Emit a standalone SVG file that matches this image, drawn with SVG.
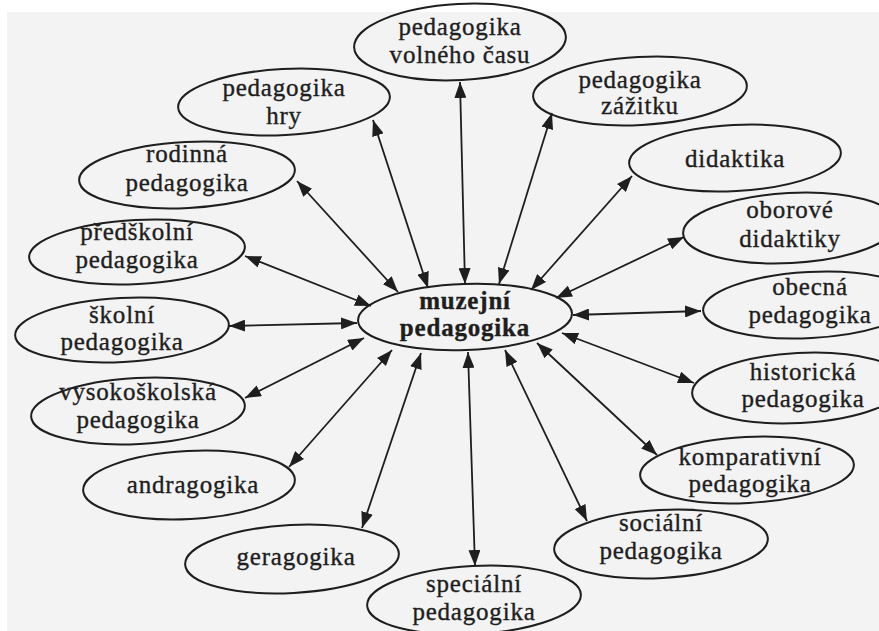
<svg xmlns="http://www.w3.org/2000/svg" width="879" height="631" viewBox="0 0 879 631">
<style>
.n ellipse{fill:none;stroke:#1e1e1e;stroke-width:2}
.n text{font-family:"Liberation Serif","Times New Roman",serif;font-size:25px;letter-spacing:0.8px;fill:#1e1e1e;stroke:#1e1e1e;stroke-width:0.35;text-anchor:middle}
.c line{stroke:#1e1e1e;stroke-width:1.8;marker-start:url(#ah);marker-end:url(#ah)}
</style>
<defs>
<marker id="ah" markerUnits="userSpaceOnUse" markerWidth="17" markerHeight="12" refX="16" refY="6" orient="auto-start-reverse" viewBox="0 0 17 12">
<path d="M0,0 L16,6 L0,12 z" fill="#1e1e1e"/>
</marker>
</defs>
<rect x="0" y="0" width="879" height="631" fill="#ffffff"/>
<rect x="7" y="12" width="872" height="619" fill="#f3f3f3"/>
<g class="c" id="connectors">
<line x1="465" y1="284" x2="460" y2="82"/>
<line x1="499" y1="284" x2="552" y2="113"/>
<line x1="531" y1="290" x2="632" y2="176"/>
<line x1="556" y1="298" x2="684" y2="237"/>
<line x1="573" y1="315" x2="701" y2="311"/>
<line x1="562" y1="333" x2="694" y2="383"/>
<line x1="537" y1="343" x2="657" y2="455"/>
<line x1="505" y1="350" x2="587" y2="521"/>
<line x1="468" y1="352" x2="475" y2="566"/>
<line x1="421" y1="353" x2="362" y2="528"/>
<line x1="392" y1="350" x2="289" y2="467"/>
<line x1="364" y1="338" x2="245" y2="398"/>
<line x1="357" y1="323" x2="229" y2="326"/>
<line x1="371" y1="306" x2="245" y2="256"/>
<line x1="398" y1="292" x2="297" y2="181"/>
<line x1="428" y1="288" x2="373" y2="120"/>
</g>
<g class="n" id="muzejni"><ellipse cx="465" cy="317" rx="107" ry="33" transform="rotate(-2 465 317)"/><text x="465" y="309" font-weight="bold">muzejní</text><text x="465" y="336" font-weight="bold">pedagogika</text></g>
<g class="n" id="volny-cas"><ellipse cx="460" cy="42" rx="106" ry="38" transform="rotate(-3 460 42)"/><text x="460" y="35">pedagogika</text><text x="460" y="63">volného času</text></g>
<g class="n" id="hry"><ellipse cx="284" cy="102" rx="106" ry="33" transform="rotate(-3 284 102)"/><text x="284" y="96">pedagogika</text><text x="284" y="124">hry</text></g>
<g class="n" id="zazitek"><ellipse cx="640" cy="91" rx="107" ry="34" transform="rotate(-3 640 91)"/><text x="640" y="88">pedagogika</text><text x="640" y="114">zážitku</text></g>
<g class="n" id="rodinna"><ellipse cx="187" cy="175" rx="108" ry="33" transform="rotate(-3 187 175)"/><text x="187" y="162">rodinná</text><text x="187" y="191">pedagogika</text></g>
<g class="n" id="didaktika"><ellipse cx="735" cy="158" rx="106" ry="33" transform="rotate(-3 735 158)"/><text x="735" y="167">didaktika</text></g>
<g class="n" id="predskolni"><ellipse cx="137" cy="252" rx="108" ry="32" transform="rotate(-3 137 252)"/><text x="137" y="240">předškolní</text><text x="137" y="268">pedagogika</text></g>
<g class="n" id="oborove"><ellipse cx="790" cy="228" rx="107" ry="35" transform="rotate(-3 790 228)"/><text x="790" y="218">oborové</text><text x="790" y="247">didaktiky</text></g>
<g class="n" id="skolni"><ellipse cx="122" cy="330" rx="107" ry="32" transform="rotate(-3 122 330)"/><text x="122" y="323">školní</text><text x="122" y="350">pedagogika</text></g>
<g class="n" id="obecna"><ellipse cx="810" cy="305" rx="107" ry="33" transform="rotate(-3 810 305)"/><text x="810" y="295">obecná</text><text x="810" y="323">pedagogika</text></g>
<g class="n" id="vysokoskolska"><ellipse cx="138" cy="411" rx="107" ry="33" transform="rotate(-3 138 411)"/><text x="138" y="400">vysokoškolská</text><text x="138" y="428">pedagogika</text></g>
<g class="n" id="historicka"><ellipse cx="799" cy="388" rx="107" ry="35" transform="rotate(-3 799 388)"/><text x="803" y="380">historická</text><text x="803" y="407">pedagogika</text></g>
<g class="n" id="komparativni"><ellipse cx="747" cy="470" rx="107" ry="33" transform="rotate(-3 747 470)"/><text x="750" y="465">komparativní</text><text x="750" y="492">pedagogika</text></g>
<g class="n" id="andragogika"><ellipse cx="189" cy="485" rx="106" ry="34" transform="rotate(-3 189 485)"/><text x="193" y="493">andragogika</text></g>
<g class="n" id="socialni"><ellipse cx="661" cy="544" rx="107" ry="34" transform="rotate(-3 661 544)"/><text x="661" y="531">sociální</text><text x="661" y="559">pedagogika</text></g>
<g class="n" id="geragogika"><ellipse cx="292" cy="559" rx="107" ry="34" transform="rotate(-3 292 559)"/><text x="296" y="565">geragogika</text></g>
<g class="n" id="specialni"><ellipse cx="474" cy="600" rx="107" ry="34" transform="rotate(-3 474 600)"/><text x="474" y="592">speciální</text><text x="474" y="620">pedagogika</text></g>
</svg>
